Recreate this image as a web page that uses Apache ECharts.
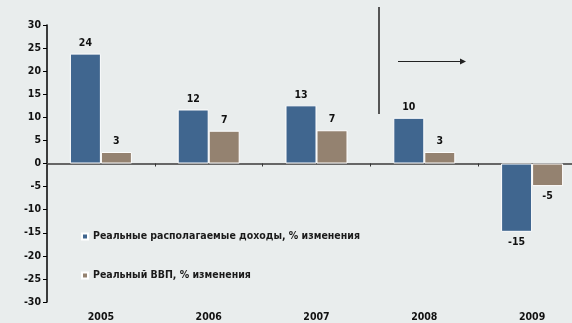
<!DOCTYPE html>
<html><head><meta charset="utf-8">
<script src="https://cdn.jsdelivr.net/npm/echarts@6/dist/echarts.min.js"></script>
<style>html,body{margin:0;padding:0;background:#e9eded;overflow:hidden}#c{width:586px;height:323px}</style>
</head><body><div id="c"></div>
<script>
const categories = ['2005','2006','2007','2008','2009'];
const incomeValues = [23.8, 11.7, 12.6, 9.9, -14.8];
const gdpValues = [2.5, 7.1, 7.2, 2.5, -4.9];
const seriesNames = ['Реальные располагаемые доходы, % изменения', 'Реальный ВВП, % изменения'];
const yTicks = {min: -30, max: 30, interval: 5};

const font = 'DejaVu Sans Condensed';
function items(vals){
  return vals.map(v => v < 0 ? {value: v, label: {position: 'bottom'}} : {value: v});
}
const labelCfg = {show: true, position: 'top', distance: 5, fontFamily: font, fontWeight: 'bold', fontSize: 10.5, color: '#111',
  formatter: p => String(Math.round(p.value))};

const chart = echarts.init(document.getElementById('c'));
chart.setOption({
  backgroundColor: '#e9eded',
  animation: false,
  grid: {left: 47, top: 25, right: 0, height: 277},
  legend: {
    orient: 'vertical', left: 76, top: 226, itemWidth: 6, itemHeight: 6, itemGap: 28,
    icon: 'rect',
    textStyle: {fontFamily: font, fontWeight: 'bold', fontSize: 10.5, color: '#1a1a1a'},
    data: seriesNames
  },
  xAxis: [
    {type: 'category', data: categories, position: 'bottom',
     axisLine: {onZero: true, lineStyle: {color: '#666', width: 2}},
     axisTick: {show: true, length: 3, lineStyle: {color: '#333'}},
     axisLabel: {show: false}},
    {type: 'category', data: categories, position: 'bottom',
     axisLine: {show: false, onZero: false}, axisTick: {show: false},
     axisLabel: {margin: 10, fontFamily: font, fontWeight: 'bold', fontSize: 10.5, color: '#111'}}
  ],
  yAxis: {
    type: 'value', min: yTicks.min, max: yTicks.max, interval: yTicks.interval,
    splitLine: {show: false},
    axisLine: {show: true, lineStyle: {color: '#000', width: 1.5}},
    axisTick: {show: true, length: 4, lineStyle: {color: '#000'}},
    axisLabel: {margin: 6, fontFamily: font, fontWeight: 'bold', fontSize: 10.5, color: '#111'}
  },
  series: [
    {name: seriesNames[0], type: 'bar', xAxisIndex: 0, data: items(incomeValues), barWidth: 31, barGap: '0%',
     itemStyle: {color: '#40668f', borderColor: '#fff', borderWidth: 1}, label: labelCfg},
    {name: seriesNames[1], type: 'bar', xAxisIndex: 0, data: items(gdpValues), barWidth: 31, barGap: '0%',
     itemStyle: {color: '#948270', borderColor: '#fff', borderWidth: 1}, label: labelCfg}
  ],
  graphic: [
    {type: 'line', shape: {x1: 379, y1: 7, x2: 379, y2: 114}, style: {stroke: '#555', lineWidth: 2}},
    {type: 'line', shape: {x1: 398, y1: 61.5, x2: 462, y2: 61.5}, style: {stroke: '#222', lineWidth: 1}},
    {type: 'polygon', shape: {points: [[460, 58.5], [466, 61.5], [460, 64.5]]}, style: {fill: '#222'}}
  ]
});
</script></body></html>
